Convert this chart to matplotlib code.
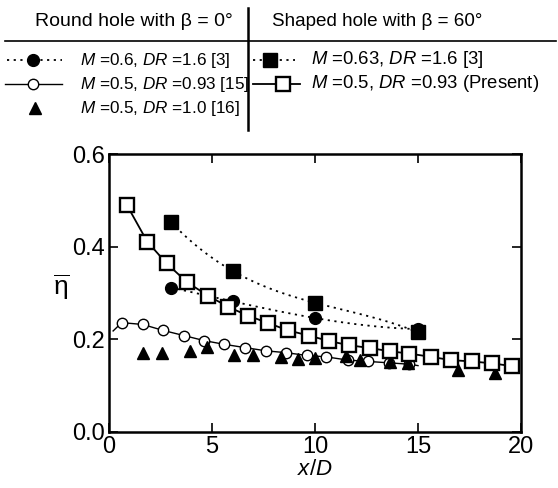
import numpy as np
import matplotlib
matplotlib.use("Agg")
import matplotlib.pyplot as plt

plt.rcParams['font.family'] = ['Liberation Sans', 'DejaVu Sans']
plt.rcParams['mathtext.fontset'] = 'custom'
plt.rcParams['mathtext.rm'] = 'Liberation Sans'
plt.rcParams['mathtext.it'] = 'Liberation Sans:italic'

# round hole, M=0.6, DR=1.6 [3]
x_r3 = [3.0, 6.0, 10.0, 15.0]
y_r3 = [0.312, 0.282, 0.246, 0.222]
# round hole, M=0.5, DR=0.93 [15]
x_r15 = [0.62, 1.64, 2.64, 3.64, 4.63, 5.60, 6.60, 7.62, 8.59, 9.60,
         10.53, 11.59, 12.59, 13.59, 14.58]
y_r15 = [0.236, 0.232, 0.219, 0.208, 0.197, 0.189, 0.182, 0.175, 0.171, 0.165,
         0.162, 0.155, 0.152, 0.149, 0.146]
# ends of the fitted curve through [15], beyond the first and last points
x_r15_ends = [0.2, 15.0]
y_r15_ends = [0.218, 0.143]
# round hole, M=0.5, DR=1.0 [16]
x_r16 = [1.64, 2.56, 3.93, 4.74, 6.08, 6.98, 8.33, 9.19, 10.0, 11.49,
         12.18, 13.64, 14.50, 16.96, 18.74]
y_r16 = [0.170, 0.171, 0.174, 0.183, 0.167, 0.167, 0.162, 0.157, 0.159, 0.164,
         0.155, 0.151, 0.148, 0.134, 0.127]
# shaped hole, M=0.63, DR=1.6 [3]
x_s3 = [3.0, 6.0, 10.0, 15.0]
y_s3 = [0.454, 0.348, 0.279, 0.215]
# shaped hole, M=0.5, DR=0.93 (present)
x_sp = [0.86, 1.86, 2.80, 3.80, 4.82, 5.79, 6.75, 7.73, 8.70, 9.71,
        10.69, 11.67, 12.67, 13.64, 14.58, 15.62, 16.59, 17.61, 18.58, 19.55]
y_sp = [0.491, 0.411, 0.364, 0.323, 0.294, 0.270, 0.251, 0.235, 0.219, 0.208,
        0.196, 0.187, 0.181, 0.174, 0.169, 0.162, 0.155, 0.152, 0.148, 0.142]

W, H = 558, 488
fig = plt.figure(figsize=(W / 100, H / 100), dpi=100)
ax = fig.add_axes([109 / W, 56.3 / H, 412 / W, 277.3 / H])

dot = (0, (1.2, 2.5))
# smooth dotted curves through the [3] data
xx = np.linspace(3, 15, 100)
ax.plot(xx, np.polyval(np.polyfit(x_r3, y_r3, 3), xx), color='k', ls=dot, lw=1.3)
ax.plot(xx, np.polyval(np.polyfit(x_s3, y_s3, 3), xx), color='k', ls=dot, lw=1.3)
ax.plot(x_r3, y_r3, 'o', color='k', ms=8.5, ls='none')
ax.plot(x_s3, y_s3, 's', color='k', ms=9.5, ls='none')

ax.plot([x_r15_ends[0]] + x_r15 + [x_r15_ends[1]],
        [y_r15_ends[0]] + y_r15 + [y_r15_ends[1]], '-', color='k', lw=1)
ax.plot(x_r15, y_r15, 'o', mfc='white', mec='k', ms=7.5, mew=1, ls='none')
ax.plot(x_r16, y_r16, '^', color='k', ms=8.5, ls='none')
ax.plot(x_sp, y_sp, '-s', color='k', lw=1.3, mfc='white', mec='k', ms=10, mew=1.7)

ax.set_xlim(0, 20)
ax.set_ylim(0, 0.6)
ax.set_xticks([0, 5, 10, 15, 20])
ax.set_yticks([0.0, 0.2, 0.4, 0.6])
ax.set_yticklabels(['0.0', '0.2', '0.4', '0.6'])
ax.tick_params(direction='in', top=True, right=True, length=6.5, width=1.2,
               labelsize=17, pad=3)
for s in ax.spines.values():
    s.set_linewidth(1.8)
ax.set_xlabel(r'$\it{x/D}$', fontsize=16, labelpad=1)
ax.set_ylabel(r'$\overline{\mathrm{\eta}}$', fontsize=19, rotation=0, va='center')
ax.yaxis.set_label_coords(-0.115, 0.52)

# legend table drawn in pixel coordinates
lg = fig.add_axes([0, 0, 1, 1], zorder=-1)
lg.set_xlim(0, W)
lg.set_ylim(H, 0)
lg.axis('off')
lg.plot([5, 556], [41, 41], color='k', lw=1.2)
lg.plot([248, 248], [8, 130], color='k', lw=1.8)
lg.text(134, 21, 'Round hole with β = 0°', fontsize=14, ha='center', va='center')
lg.text(377, 21, 'Shaped hole with β = 60°', fontsize=13.6, ha='center', va='center')

rows = [60, 84, 108]
lg.plot([7, 62], [rows[0], rows[0]], color='k', ls=dot, lw=1.3)
lg.plot([33], [rows[0]], 'o', color='k', ms=8.5)
lg.plot([5, 62], [rows[1], rows[1]], color='k', lw=1)
lg.plot([33], [rows[1]], 'o', mfc='white', mec='k', ms=7.5, mew=1)
lg.plot([35], [rows[2]], '^', color='k', ms=8.5)
lg.plot([253, 295], [rows[0], rows[0]], color='k', ls=dot, lw=1.3)
lg.plot([270], [rows[0]], 's', color='k', ms=9.5)
lg.plot([253, 300], [rows[1], rows[1]], color='k', lw=1.3)
lg.plot([283], [rows[1]], 's', mfc='white', mec='k', ms=10, mew=1.7)

labels_l = [r'$\it{M}$ =0.6, $\it{DR}$ =1.6 [3]',
            r'$\it{M}$ =0.5, $\it{DR}$ =0.93 [15]',
            r'$\it{M}$ =0.5, $\it{DR}$ =1.0 [16]']
labels_r = [r'$\it{M}$ =0.63, $\it{DR}$ =1.6 [3]',
            r'$\it{M}$ =0.5, $\it{DR}$ =0.93 (Present)']
for y, t in zip(rows, labels_l):
    lg.text(80, y, t, fontsize=12.3, ha='left', va='center')
for y, t in zip(rows, labels_r):
    lg.text(311, y, t, fontsize=13.3, ha='left', va='center')

fig.savefig('out.png', dpi=100)
